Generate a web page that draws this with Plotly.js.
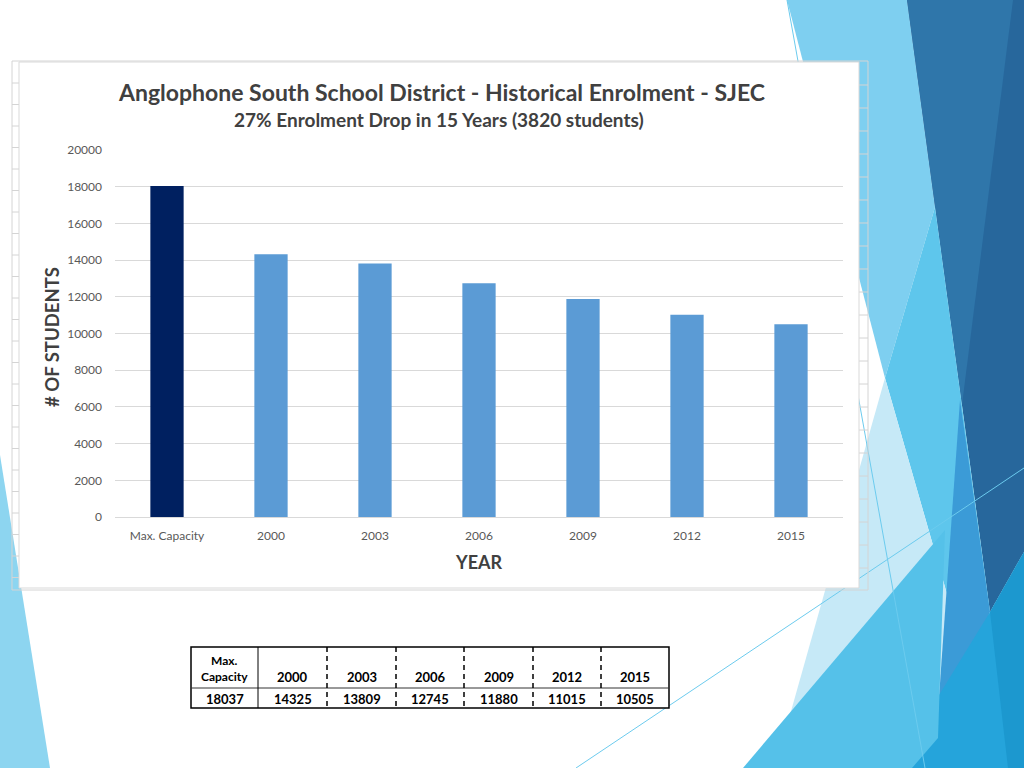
<!DOCTYPE html>
<html>
<head>
<meta charset="utf-8">
<script src="https://cdn.plot.ly/plotly-3.0.1.min.js"></script>
<style>
  html, body { margin: 0; padding: 0; background: #fff; }
  #chart { width: 1024px; height: 768px; }
</style>
</head>
<body>
<div id="chart"></div>
<script>
//  ======== DATA ========
var categories = ['Max. Capacity', '2000', '2003', '2006', '2009', '2012', '2015'];
var enrolment = [18037, 14325, 13809, 12745, 11880, 11015, 10505];
var yTicks = [0, 2000, 4000, 6000, 8000, 10000, 12000, 14000, 16000, 18000, 20000];

var titleText = 'Anglophone South School District - Historical Enrolment - SJEC';
var subtitleText = '27% Enrolment Drop in 15 Years (3820 students)';

//  ======== PIXEL -> PAPER HELPERS ========
var L = 115, R = 843, TOP = 150, BOT = 517;
function px(x) { return (x - L) / (R - L); }
function py(y) { return (BOT - y) / (BOT - TOP); }
function poly(pts, color) {
  var d = pts.map(function(p, i) { return (i ? 'L' : 'M') + px(p[0]) + ',' + py(p[1]); }).join(' ') + ' Z';
  return {type: 'path', xref: 'paper', yref: 'paper', path: d, fillcolor: color,
          line: {width: 0}, layer: 'below'};
}
function seg(x0, y0, x1, y1, color, width, dash) {
  return {type: 'line', xref: 'paper', yref: 'paper', x0: px(x0), y0: py(y0), x1: px(x1), y1: py(y1),
          line: {color: color, width: width, dash: dash || 'solid'}, layer: 'below'};
}
function box(x0, y0, x1, y1, fill, color, width) {
  return {type: 'rect', xref: 'paper', yref: 'paper', x0: px(x0), y0: py(y0), x1: px(x1), y1: py(y1),
          fillcolor: fill, line: {color: color, width: width}, layer: 'below'};
}

//  ======== BACKGROUND FACETS ========
var shapes = [];
shapes.push(poly([[0, 455], [50, 768], [0, 768]], '#8dd5f0'));
shapes.push(poly([[787, 0], [907, 0], [935, 207], [885, 378]], '#7ecff0'));
shapes.push(poly([[907, 0], [1024, 0], [1024, 552], [990, 612]], '#27679c'));
shapes.push(poly([[907, 0], [1013, 0], [962, 405]], '#2f76aa'));
shapes.push(poly([[935, 207], [990, 612], [955, 622], [885, 378]], '#5ec6ec'));
shapes.push(poly([[885, 378], [955, 622], [930, 768], [775, 768]], '#c6e9f7'));
shapes.push(poly([[960, 400], [990, 612], [936, 740]], '#3b9bd7'));
shapes.push(poly([[870, 768], [936, 700], [990, 612], [1024, 552], [1024, 768]], '#25a4db'));
shapes.push(poly([[1024, 552], [990, 612], [1008, 768], [1024, 768]], '#1c98cf'));
shapes.push(poly([[743, 768], [945, 530], [938, 738], [912, 768]], '#55c1e9'));
shapes.push(seg(576, 768, 1024, 468, '#6ccbee', 1));
shapes.push(seg(787, 0, 925, 768, '#6ccbee', 1));

//  ======== CHART FRAME ========
shapes.push(box(12, 61, 868, 590, 'rgba(0,0,0,0)', '#d4d4d4', 1));
for (var yy = 83; yy < 590; yy += 21.5) shapes.push(seg(12, yy, 19, yy, '#d4d4d4', 1));
for (var yr = 85; yr < 590; yr += 23) shapes.push(seg(859, yr, 868, yr, '#d4d4d4', 1));
shapes.push(box(19, 62, 859, 588, '#ffffff', '#d9d9d9', 1));

//  ======== TABLE ========
var colEdges = [191, 258, 327, 396, 464, 533, 601, 669];
var tTop = 647, tMid = 688, tBot = 708;
shapes.push({type: 'rect', xref: 'paper', yref: 'paper', x0: px(191), y0: py(tTop), x1: px(669), y1: py(tBot),
             fillcolor: '#ffffff', line: {color: '#000', width: 1.5}, layer: 'above'});
shapes.push(Object.assign(seg(191, tMid, 669, tMid, '#333', 1), {layer: 'above'}));
shapes.push(Object.assign(seg(258, tTop, 258, tBot, '#000', 1), {layer: 'above'}));
for (var c = 2; c < colEdges.length - 1; c++) {
  shapes.push(Object.assign(seg(colEdges[c], tTop, colEdges[c], tBot, '#000', 1.5, '5px,4px'), {layer: 'above'}));
}

var annotations = [];
var tblFont = {family: 'Lato, sans-serif', size: 13, color: '#000'};
categories.forEach(function(cat, i) {
  var cx = (colEdges[i] + colEdges[i + 1]) / 2;
  var head = cat.indexOf(' ') > 0 ? cat.replace(' ', '<br>') : cat;
  annotations.push({xref: 'paper', yref: 'paper', x: px(cx), y: py(i === 0 ? 668 : 677),
    text: '<b>' + head + '</b>', showarrow: false, xanchor: 'center', yanchor: 'middle',
    font: i === 0 ? Object.assign({}, tblFont, {size: 12}) : tblFont});
  annotations.push({xref: 'paper', yref: 'paper', x: px(cx), y: py(698.5),
    text: '<b>' + enrolment[i] + '</b>', showarrow: false, xanchor: 'center', yanchor: 'middle',
    font: tblFont});
});

// titles
annotations.push({xref: 'paper', yref: 'paper', x: px(441), y: py(92), text: '<b>' + titleText + '</b>',
  showarrow: false, xanchor: 'center', yanchor: 'middle',
  font: {family: 'Lato, sans-serif', size: 23, color: '#404040'}});
annotations.push({xref: 'paper', yref: 'paper', x: px(439), y: py(120), text: '<b>' + subtitleText + '</b>',
  showarrow: false, xanchor: 'center', yanchor: 'middle',
  font: {family: 'Lato, sans-serif', size: 19, color: '#404040'}});
annotations.push({xref: 'paper', yref: 'paper', x: px(52), y: py(337), text: '<b># OF STUDENTS</b>',
  showarrow: false, xanchor: 'center', yanchor: 'middle', textangle: -90,
  font: {family: 'Lato, sans-serif', size: 18.5, color: '#404040'}});
annotations.push({xref: 'paper', yref: 'paper', x: px(479), y: py(562), text: '<b>YEAR</b>',
  showarrow: false, xanchor: 'center', yanchor: 'middle',
  font: {family: 'Lato, sans-serif', size: 18, color: '#404040'}});

//  ======== PLOTLY ========
var trace = {
  x: categories,
  y: enrolment,
  type: 'bar',
  width: 0.32,
  marker: {color: categories.map(function(c, i) { return i === 0 ? '#002060' : '#5b9bd5'; })},
  hoverinfo: 'x+y'
};

var layout = {
  width: 1024,
  height: 768,
  margin: {l: L, r: 1024 - R, t: TOP, b: 768 - BOT, pad: 0},
  paper_bgcolor: '#ffffff',
  plot_bgcolor: 'rgba(0,0,0,0)',
  showlegend: false,
  font: {family: 'Lato, sans-serif', color: '#595959'},
  xaxis: {
    type: 'category',
    showgrid: false,
    zeroline: false,
    showline: true,
    linecolor: '#d9d9d9',
    ticks: '',
    tickfont: {size: 12, color: '#595959'},
    ticklabelstandoff: 8
  },
  yaxis: {
    range: [0, 20000],
    tickvals: yTicks,
    tickformat: 'd',
    showgrid: true,
    gridcolor: '#d9d9d9',
    zeroline: false,
    showline: false,
    ticks: '',
    tickfont: {size: 12, color: '#595959'},
    ticklabelstandoff: 12
  },
  shapes: shapes,
  annotations: annotations
};

Plotly.newPlot('chart', [trace], layout, {displayModeBar: false, staticPlot: true});
</script>
</body>
</html>
